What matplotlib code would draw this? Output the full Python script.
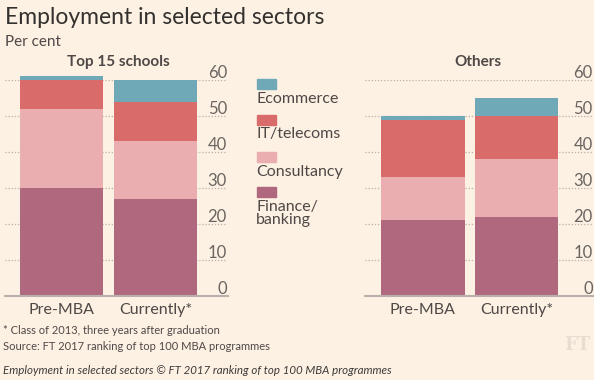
import matplotlib.pyplot as plt
from matplotlib.patches import Rectangle

# data (per cent)
groups = ['Top 15 schools', 'Others']
periods = ['Pre-MBA', 'Currently*']
sectors = ['Finance/\nbanking', 'Consultancy', 'IT/telecoms', 'Ecommerce']
finance = {'Top 15 schools': [30, 27], 'Others': [21, 22]}
consultancy = {'Top 15 schools': [22, 16], 'Others': [12, 16]}
it_telecoms = {'Top 15 schools': [8, 11], 'Others': [16, 12]}
ecommerce = {'Top 15 schools': [1, 6], 'Others': [1, 5]}
yticks = [0, 10, 20, 30, 40, 50, 60]

colors = ['#b0687e', '#eaadb0', '#d96b6a', '#6fa9b7']
bg = '#fdf1e4'
txt = '#4e4846'
W, H = 594, 380

plt.rcParams['font.family'] = ['Lato', 'DejaVu Sans']
fig = plt.figure(figsize=(W / 100, H / 100), dpi=100, facecolor=bg)


def panel(x0, x1, xlim, group, title, title_x):
    ax = fig.add_axes([x0 / W, (H - 296) / H, (x1 - x0) / W, 216 / H])
    ax.set_facecolor(bg)
    ax.set_xlim(*xlim)
    ax.set_ylim(0, 60)
    for s in ax.spines.values():
        s.set_visible(False)
    ax.set_xticks([])
    ax.set_yticks([])
    # dotted gridlines, solid baseline
    for t in yticks[1:]:
        ax.axhline(t, color='#b8b0aa', lw=0.9, ls=(0, (1, 1.5)), zorder=0, xmax=0.99)
    ax.axhline(0, color='#b8b0aa', lw=1.5, zorder=3, clip_on=False)
    for t in yticks:
        ax.text(0.995, t + 0.6, str(t), transform=ax.get_yaxis_transform(),
                ha='right', va='baseline', fontsize=12, color='#6b6561')
    series = [finance[group], consultancy[group], it_telecoms[group], ecommerce[group]]
    bottoms = [0, 0]
    for vals, c in zip(series, colors):
        ax.bar([0, 1], vals, bottom=bottoms, width=0.89, color=c, clip_on=False, zorder=2)
        bottoms = [b + v for b, v in zip(bottoms, vals)]
    for i, p in enumerate(periods):
        ax.text(i, -2.0, p, ha='center', va='top', fontsize=11.5, color=txt)
    fig.text(title_x / W, 1 - 62 / H, title, ha='center', va='center',
             fontsize=11, fontweight='bold', color=txt)
    return ax


panel(5, 228, (-0.601, 1.771), 'Top 15 schools', 'Top 15 schools', 118)
panel(365, 594, (-0.62, 1.83), 'Others', 'Others', 478)

# legend
leg = [('Ecommerce', 79, 99), ('IT/telecoms', 115, 134),
       ('Consultancy', 152, 172), ('Finance/\nbanking', 187, 207)]
for (name, sy, ty), c in zip(leg, colors[::-1]):
    fig.patches.append(Rectangle((257 / W, 1 - (sy + 10) / H), 19 / W, 10 / H,
                                 transform=fig.transFigure, color=c))
    fig.text(256 / W, 1 - (ty - 7) / H, name, ha='left', va='top',
             fontsize=11.5, color=txt, linespacing=0.95)

fig.text(5 / W, 1 - 18 / H, 'Employment in selected sectors', ha='left', va='center',
         fontsize=16.5, color='#33302e')
fig.text(5 / W, 1 - 42 / H, 'Per cent', ha='left', va='center', fontsize=11, color=txt)
fig.text(3 / W, 1 - 331 / H, '* Class of 2013, three years after graduation',
         ha='left', va='center', fontsize=8, color=txt)
fig.text(3 / W, 1 - 347 / H, 'Source: FT 2017 ranking of top 100 MBA programmes',
         ha='left', va='center', fontsize=8, color=txt)
fig.text(3 / W, 1 - 370 / H, 'Employment in selected sectors \u00a9 FT 2017 ranking of top 100 MBA programmes',
         ha='left', va='center', fontsize=8.3, style='italic', color='#3d3a38')
fig.text(590 / W, 1 - 345 / H, 'FT', ha='right', va='center', fontsize=13,
         family='DejaVu Serif', fontweight='bold', color='#e9ddd2')

fig.savefig('out.png', dpi=100, facecolor=bg)
